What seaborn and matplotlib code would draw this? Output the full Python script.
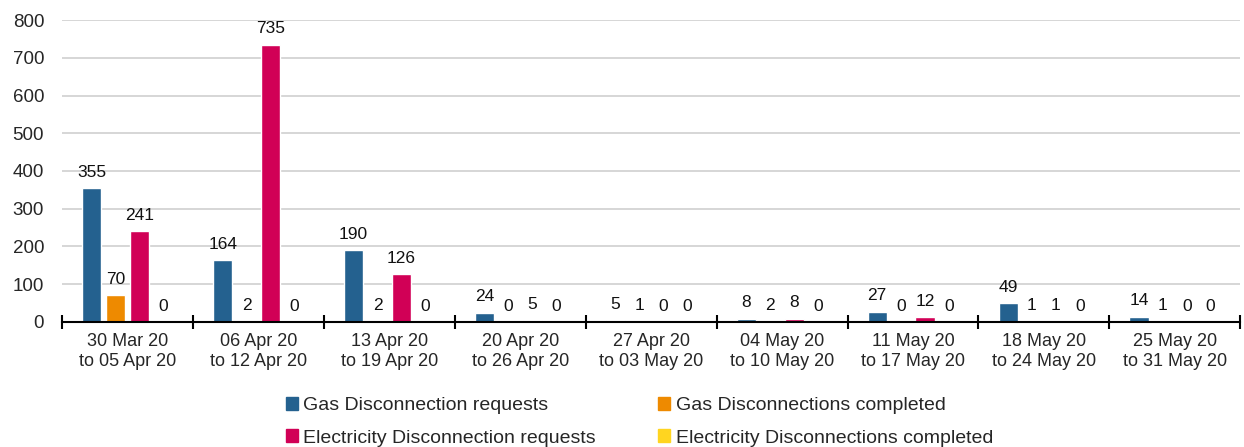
import pandas as pd
import matplotlib.pyplot as plt
import seaborn as sns

weeks = ['30 Mar 20\nto 05 Apr 20', '06 Apr 20\nto 12 Apr 20', '13 Apr 20\nto 19 Apr 20',
         '20 Apr 20\nto 26 Apr 20', '27 Apr 20\nto 03 May 20', '04 May 20\nto 10 May 20',
         '11 May 20\nto 17 May 20', '18 May 20\nto 24 May 20', '25 May 20\nto 31 May 20']
series = ['Gas Disconnection requests', 'Gas Disconnections completed',
          'Electricity Disconnection requests', 'Electricity Disconnections completed']
gas_requests = [355, 164, 190, 24, 5, 8, 27, 49, 14]
gas_completed = [70, 2, 2, 0, 1, 2, 0, 1, 1]
elec_requests = [241, 735, 126, 5, 0, 8, 12, 1, 0]
elec_completed = [0, 0, 0, 0, 0, 0, 0, 0, 0]
colors = ['#24618F', '#EE8A00', '#D10056', '#FFD520']

#long format table for seaborn
rows = []
for name, vals in zip(series, [gas_requests, gas_completed, elec_requests, elec_completed]):
    for w, v in zip(weeks, vals):
        rows.append({'week': w, 'series': name, 'value': v})
df = pd.DataFrame(rows)

sns.set_style('white')
plt.rcParams['font.family'] = ['Liberation Sans', 'DejaVu Sans']

fig = plt.figure(figsize=(12.44, 4.47), dpi=100)
ax = fig.add_axes([0.05, 0.28, 0.947, 0.675])
sns.barplot(data=df, x='week', y='value', hue='series', hue_order=series,
            palette=colors, saturation=1, width=0.73, gap=0.2, ax=ax, legend=False)

for c in ax.containers:
    ax.bar_label(c, padding=6, fontsize=12.5, color='#111111')

ax.set_ylim(0, 800)
ax.set_xlim(-0.5, len(weeks) - 0.5)
ax.set_yticks(range(0, 801, 100))
ax.yaxis.grid(True, color='#D0D0D0', linewidth=1.2)
ax.set_axisbelow(True)
for s in ['left', 'right', 'top']:
    ax.spines[s].set_visible(False)
ax.spines['bottom'].set_color('black')
ax.spines['bottom'].set_linewidth(1.5)
ax.set_xlabel('')
ax.set_ylabel('')
ax.tick_params(axis='y', length=0, labelsize=13.5, pad=13)
ax.tick_params(axis='x', which='major', bottom=True, length=0, labelsize=13, pad=8)
ax.set_xticks([i - 0.5 for i in range(len(weeks) + 1)], minor=True)
ax.tick_params(axis='x', which='minor', bottom=True, direction='inout', length=10, width=1.5, color='black')

handles = [plt.Rectangle((0, 0), 1, 1, color=c) for c in colors]
order = [0, 2, 1, 3]
ax.legend([handles[i] for i in order], [series[i] for i in order], ncol=2,
          loc='upper center', bbox_to_anchor=(0.49, -0.205), frameon=False,
          fontsize=14, handlelength=0.6, handleheight=0.6, handletextpad=0.3,
          columnspacing=3.2, labelspacing=0.78, borderpad=0.2)

plt.savefig('out.png', dpi=100)
